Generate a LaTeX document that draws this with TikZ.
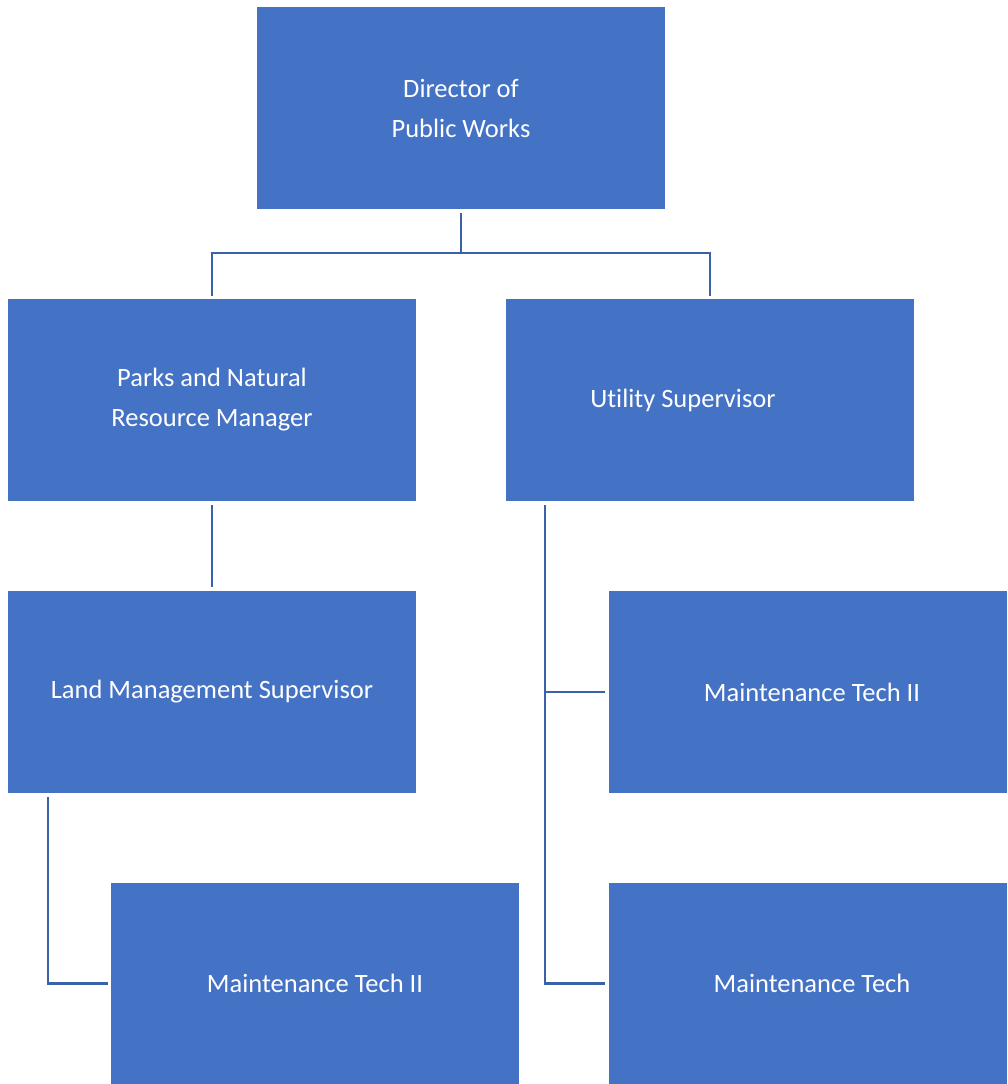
\documentclass[tikz,border=0pt]{standalone}
\usepackage{fontspec}
\setmainfont[Ligatures={NoCommon}]{Carlito}
\definecolor{boxblue}{HTML}{4472C4}
\definecolor{lineblue}{HTML}{3A62A8}
\begin{document}
\begin{tikzpicture}[x=1pt,y=-1pt,
  orgbox/.style={fill=boxblue,draw=none,text=white,inner sep=0pt,minimum width=408pt,minimum height=202pt,align=center,font=\fontsize{26.5}{40}\selectfont},
  lbl/.style={text=white,inner sep=0pt,align=center,font=\fontsize{26.5}{40}\selectfont},
  conn/.style={draw=lineblue,line width=2.4pt}]
\useasboundingbox (0,0) rectangle (1007,1084);
\node[orgbox] (dir) at (461,108) {Director of\\Public Works};
\node[orgbox] (parks) at (212,400) {Parks and Natural\\Resource Manager};
\node[orgbox] (util) at (710,400) {};
\node[lbl] (utiltext) at (683,400) {Utility Supervisor};
\node[orgbox] (lms) at (212,692) {Land Management Supervisor};
\node[orgbox,minimum width=398pt] (mt2r) at (808,692) {};
\node[lbl] (mt2rtext) at (812,692) {Maintenance Tech II};
\node[orgbox] (mt2l) at (315,983.5) {Maintenance Tech II};
\node[orgbox,minimum width=398pt,minimum height=201pt] (mtr) at (808,983.5) {};
\node[lbl] (mtrtext) at (812,983.5) {Maintenance Tech};
\coordinate (bus) at (461,253);
\draw[conn] ([yshift=-4pt]dir.south) -- (bus);
\draw[conn] ([yshift=3pt]parks.north) |- (bus) -| ([yshift=3pt]util.north);
\draw[conn] ([yshift=-4pt]parks.south) -- ([yshift=4pt]lms.north);
\coordinate (utrunk) at (545,505);
\draw[conn] (utrunk) |- ([xshift=-4pt]mt2r.west);
\draw[conn] (utrunk) |- ([xshift=-4pt]mtr.west);
\coordinate (ltrunk) at (48,797);
\draw[conn] (ltrunk) |- ([xshift=-3pt]mt2l.west);
\end{tikzpicture}
\end{document}
